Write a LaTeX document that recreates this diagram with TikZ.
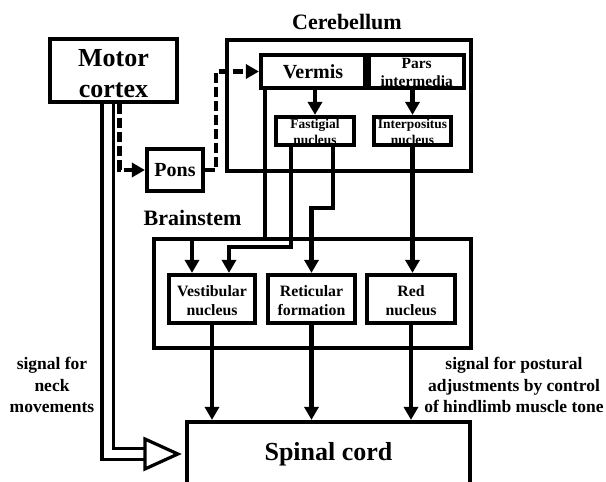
\documentclass[tikz,border=0pt]{standalone}
\usepackage{fontspec}
\setmainfont{Liberation Serif}
\usetikzlibrary{arrows.meta,positioning,calc}
\newcommand{\fsz}[2]{\fontsize{#1}{#2}\selectfont\bfseries}

\begin{document}
\begin{tikzpicture}[
  x=1pt, y=-1pt,
  blk/.style={draw=black, line width=4.2pt, inner sep=0pt, align=center},
  grp/.style={blk, line width=4.8pt},
  ttl/.style={font=\fsz{22}{26}},
  lbl/.style={font=\fsz{17.5}{21.5}, align=center},
  arr/.style={-{Triangle[length=13pt,width=14pt]}, line width=4.2pt},
  dsh/.style={arr, dash pattern=on 10pt off 4pt},
  dbl/.style={draw=black, line width=3.2pt, double=white, double distance=8pt},
  hd/.style={draw=black, line width=3.2pt, fill=white},
]
\useasboundingbox (0,0) rectangle (606,482);

% ============ group boxes ============
\node[grp, minimum width=244, minimum height=131] (cereb) at (349,105.5) {};
\node[ttl] (cerebT) at (347,22) {Cerebellum};
\node[grp, minimum width=317, minimum height=109] (brain) at (312.5,293.5) {};
\node[ttl] (brainT) at (192.5,218) {Brainstem};

% ============ cortex and pons ============
\node[blk, minimum width=127, minimum height=63, font=\fsz{26}{31},
      text height=54pt, text depth=1pt] (motor) at (113.5,70.5) {Motor\\cortex};
\node[blk, minimum width=56, minimum height=42, font=\fsz{20}{24}] (pons) at (175,170) {Pons};

% ============ cerebellum ============
\node[blk, minimum width=104, minimum height=33, font=\fsz{20}{24}] (vermis) at (313,71.5) {Vermis};
\node[blk, minimum width=95, minimum height=33, font=\fsz{15.5}{18}, anchor=west,
      text height=29pt, text depth=0pt] (pars) at (vermis.east) {Pars\\intermedia};
\node[blk, minimum width=78, minimum height=28, font=\fsz{13.4}{16},
      text height=27pt, text depth=0pt] (fast) at (315,131) {Fastigial\\nucleus};
\node[blk, minimum width=77, minimum height=28, font=\fsz{13.4}{16},
      text height=27pt, text depth=0pt] (interp) at (412.5,131) {Interpositus\\nucleus};

% ============ brainstem ============
\node[blk, minimum width=86, minimum height=48, font=\fsz{15.8}{19},
      text height=33pt, text depth=1pt] (vest) at (212,299) {Vestibular\\nucleus};
\node[blk, minimum width=87, minimum height=48, font=\fsz{15.8}{19},
      text height=33pt, text depth=1pt] (ret) at (311.5,299) {Reticular\\formation};
\node[blk, minimum width=88, minimum height=48, font=\fsz{15.8}{19},
      text height=33pt, text depth=1pt] (red) at (411,299) {Red\\nucleus};

% ============ spinal cord ============
\node[blk, minimum width=283, minimum height=64, font=\fsz{26}{31}] (sc) at (328.5,454) {Spinal cord};

% ============ side labels ============
\node[lbl] (neckL) at (52,385) {signal for\\neck\\movements};
\node[lbl] (postL) at (514,385) {signal for postural\\adjustments by control\\of hindlimb muscle tone};

% ============ connections ============
\draw[dsh] ($(motor.south)+(6,0)$) |- (pons.west);
\draw[dsh] (pons.east) -- ++(11,0) |- (vermis.west);
\draw[arr] (fast.north |- vermis.south) -- (fast.north);
\draw[arr] (interp.north |- pars.south) -- (interp.north);
\draw[arr] ($(vermis.south west)+(6,0)$) |- ($(vest.north)+(-20,-34)$) -- ($(vest.north)+(-20,0)$);
\draw[arr] ($(fast.south west)+(17,0)$) |- ($(vest.north)+(17,-26)$) -- ($(vest.north)+(17,0)$);
\draw[arr] ($(fast.south east)+(-23,0)$) |- ($(ret.north)+(0,-65)$) -- (ret.north);
\draw[arr] (interp.south) -- (interp.south |- red.north);
\foreach \n in {vest,ret,red}{\draw[arr] (\n.south) -- (\n.south |- sc.north);}

% double arrow to spinal cord
\draw[dbl] ($(motor.south)+(-6,0)$) |- ($(sc.west)+(-40,0)$);
\draw[hd] ($(sc.west)+(-40,-15)$) -- ($(sc.west)+(-7,0)$) -- ($(sc.west)+(-40,15)$) -- cycle;

\end{tikzpicture}
\end{document}
